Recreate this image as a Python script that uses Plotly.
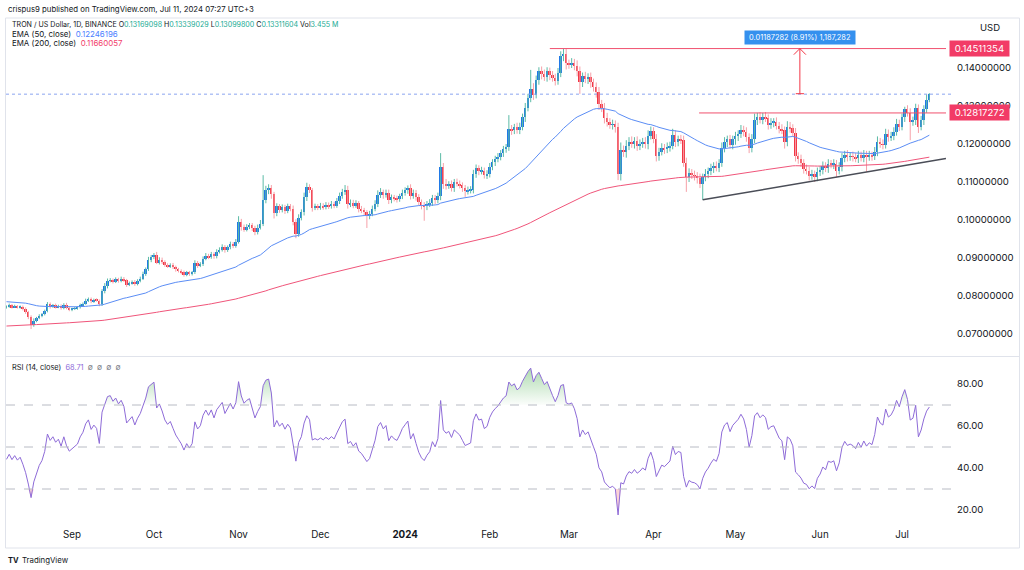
import numpy as np
import pandas as pd
import plotly.graph_objects as go

W, H = 1024, 570

# ---------------- DATA (prices in units of 1e-4 USD) ----------------
START_DATE = "2023-08-08"
FIRST_OPEN_E4 = 770

close_aug = [772, 776, 771, 774, 770, 772, 766, 758, 745, 724, 735, 742, 748, 752, 760, 778, 772, 776, 771, 774, 768, 777, 769, 764]
close_sep = [766, 768, 770, 776, 780, 788, 792, 786, 790, 788, 778, 812, 826, 840, 842, 838, 844, 840, 846, 842, 830, 834, 838, 832, 840, 846, 858, 870, 895, 902]
close_oct = [908, 888, 896, 890, 882, 878, 882, 876, 870, 866, 862, 856, 862, 858, 862, 886, 880, 884, 898, 906, 902, 910, 904, 916, 922, 928, 920, 928, 936, 932, 942]
close_nov = [995, 982, 975, 982, 986, 978, 968, 980, 990, 1052, 1078, 1084, 1068, 1018, 1036, 1026, 1034, 1024, 1036, 1030, 996, 964, 1005, 1020, 1060, 1086, 1078, 1032, 1036, 1033]
close_dec = [1038, 1034, 1040, 1036, 1042, 1038, 1050, 1062, 1074, 1080, 1042, 1046, 1038, 1044, 1030, 1026, 1020, 1012, 1016, 1030, 1042, 1066, 1074, 1066, 1072, 1052, 1060, 1056, 1054, 1062, 1072]
close_jan = [1078, 1084, 1064, 1072, 1060, 1048, 1040, 1036, 1042, 1046, 1058, 1052, 1062, 1140, 1096, 1090, 1094, 1084, 1100, 1096, 1092, 1084, 1076, 1078, 1080, 1120, 1136, 1128, 1130, 1118, 1122]
close_feb = [1140, 1152, 1160, 1166, 1176, 1186, 1192, 1240, 1236, 1244, 1238, 1246, 1270, 1296, 1322, 1346, 1330, 1368, 1392, 1384, 1376, 1392, 1382, 1374, 1366, 1388, 1432, 1438, 1412]
close_mar = [1410, 1414, 1406, 1392, 1362, 1378, 1370, 1376, 1362, 1350, 1336, 1306, 1296, 1268, 1258, 1250, 1252, 1244, 1120, 1184, 1178, 1196, 1206, 1200, 1208, 1196, 1200, 1206, 1200, 1222, 1234]
close_apr = [1214, 1168, 1180, 1190, 1186, 1192, 1196, 1224, 1206, 1212, 1210, 1150, 1112, 1124, 1118, 1116, 1110, 1096, 1112, 1122, 1128, 1136, 1142, 1138, 1150, 1190, 1206, 1212, 1198, 1212]
close_may = [1220, 1226, 1238, 1232, 1218, 1190, 1212, 1262, 1272, 1264, 1272, 1268, 1250, 1256, 1258, 1248, 1240, 1236, 1204, 1246, 1242, 1230, 1168, 1160, 1150, 1134, 1130, 1116, 1120, 1112, 1126]
close_jun = [1132, 1142, 1136, 1148, 1146, 1148, 1130, 1140, 1162, 1172, 1166, 1168, 1166, 1162, 1170, 1164, 1172, 1166, 1170, 1168, 1180, 1206, 1200, 1198, 1226, 1218, 1222, 1232, 1252, 1246]
close_jul = [1270, 1292, 1282, 1258, 1262, 1294, 1246, 1262, 1292, 1316.9098, 1331.1604]

# upper wick (above candle body) and lower wick (below body), 1e-4 USD
uw_aug = [3, 4, 3, 3, 2, 3, 3, 4, 3, 4, 6, 3, 4, 3, 4, 6, 5, 3, 4, 3, 4, 4, 5, 3]
lw_aug = [3, 3, 4, 2, 3, 3, 4, 5, 6, 11, 5, 4, 3, 4, 3, 3, 5, 3, 4, 3, 4, 3, 4, 4]
uw_sep = [3, 4, 3, 4, 3, 5, 4, 4, 3, 4, 3, 6, 8, 6, 5, 4, 5, 4, 5, 4, 3, 4, 3, 4, 4, 5, 6, 5, 8, 6]
lw_sep = [4, 3, 4, 3, 4, 3, 4, 5, 4, 3, 5, 4, 5, 6, 4, 5, 4, 5, 4, 5, 6, 4, 4, 5, 4, 4, 4, 5, 4, 6]
uw_oct = [5, 8, 6, 5, 4, 4, 4, 5, 4, 4, 4, 5, 4, 4, 4, 8, 6, 5, 6, 7, 5, 6, 5, 7, 6, 8, 6, 5, 7, 6, 8]
lw_oct = [5, 4, 5, 6, 5, 4, 4, 5, 6, 4, 5, 5, 4, 5, 4, 4, 6, 4, 5, 4, 5, 4, 6, 5, 4, 5, 6, 4, 5, 6, 5]
uw_nov = [15, 8, 6, 7, 6, 6, 7, 8, 10, 66, 12, 10, 8, 6, 8, 6, 7, 6, 7, 6, 8, 6, 10, 8, 12, 12, 8, 6, 7, 6]
lw_nov = [4, 10, 6, 5, 6, 7, 8, 6, 5, 6, 8, 10, 12, 14, 8, 7, 6, 8, 6, 7, 10, 12, 8, 6, 8, 10, 7, 10, 6, 7]
uw_dec = [7, 6, 7, 6, 8, 6, 8, 10, 8, 12, 10, 8, 7, 8, 6, 7, 6, 6, 8, 8, 10, 12, 10, 6, 8, 8, 7, 6, 8, 7, 8]
lw_dec = [6, 7, 6, 7, 6, 7, 6, 8, 6, 8, 12, 8, 7, 6, 10, 8, 9, 33, 10, 6, 7, 8, 8, 10, 7, 10, 8, 7, 8, 6, 7]
uw_jan = [8, 7, 10, 8, 7, 8, 6, 7, 8, 9, 8, 8, 10, 36, 10, 12, 8, 10, 8, 9, 8, 7, 8, 10, 9, 12, 10, 8, 10, 8, 9]
lw_jan = [8, 9, 10, 8, 9, 10, 12, 38, 10, 8, 9, 10, 8, 10, 14, 10, 8, 9, 10, 8, 9, 10, 15, 9, 8, 10, 9, 10, 8, 9, 10]
uw_feb = [10, 8, 9, 10, 8, 9, 8, 36, 10, 9, 12, 10, 10, 12, 10, 49, 14, 12, 10, 12, 12, 10, 9, 10, 11, 12, 12, 13, 14]
lw_feb = [10, 9, 10, 8, 9, 10, 9, 10, 12, 10, 11, 12, 10, 12, 10, 12, 14, 10, 12, 14, 10, 12, 14, 10, 12, 10, 12, 14, 16]
uw_mar = [10, 12, 10, 14, 12, 10, 12, 10, 12, 10, 12, 14, 10, 12, 14, 10, 12, 10, 12, 20, 12, 14, 12, 14, 10, 12, 12, 10, 12, 14, 12]
lw_mar = [12, 10, 12, 14, 30, 12, 10, 12, 14, 12, 14, 16, 12, 14, 12, 10, 12, 14, 15, 16, 12, 14, 12, 10, 12, 14, 12, 10, 12, 14, 10]
uw_apr = [10, 12, 10, 12, 10, 12, 10, 16, 12, 10, 12, 12, 14, 12, 10, 12, 10, 12, 10, 12, 10, 12, 10, 12, 10, 14, 12, 10, 12, 10]
lw_apr = [12, 14, 12, 10, 12, 10, 12, 10, 14, 12, 10, 10, 38, 12, 10, 12, 14, 12, 43, 10, 12, 10, 12, 10, 12, 10, 12, 14, 10, 12]
uw_may = [12, 10, 12, 10, 12, 10, 14, 18, 10, 12, 10, 12, 10, 12, 10, 12, 10, 12, 10, 14, 12, 10, 12, 10, 12, 10, 12, 10, 12, 10, 12]
lw_may = [14, 12, 10, 12, 12, 14, 12, 10, 12, 10, 12, 10, 12, 10, 12, 10, 12, 10, 16, 10, 12, 10, 14, 12, 10, 12, 10, 12, 10, 12, 10]
uw_jun = [10, 12, 10, 12, 10, 12, 10, 12, 14, 10, 12, 10, 12, 10, 12, 10, 12, 10, 12, 10, 12, 14, 10, 12, 14, 12, 10, 12, 14, 12]
lw_jun = [10, 12, 10, 12, 10, 12, 17, 10, 12, 10, 12, 10, 12, 10, 12, 10, 12, 39, 10, 12, 10, 12, 10, 12, 10, 12, 10, 12, 10, 12]
uw_jul = [10, 6, 10, 12, 10, 12, 10, 12, 10, 14, 2.7425]
lw_jul = [10, 12, 10, 48, 10, 12, 17, 10, 12, 10, 6.9298]

# indicator starting states
EMA50_START = 0.0785
EMA200_START = 0.0721
RSI_AVG_GAIN_START = 0.00030
RSI_AVG_LOSS_START = 0.00038

# tick labels / annotations
PRICE_TICKS = [0.07, 0.08, 0.09, 0.10, 0.11, 0.12, 0.13, 0.14]
RSI_TICKS = [20, 40, 60, 80]
MONTH_TICKS = ["2023-09-01", "2023-10-01", "2023-11-01", "2023-12-01", "2024-01-01", "2024-02-01",
               "2024-03-01", "2024-04-01", "2024-05-01", "2024-06-01", "2024-07-01"]
MONTH_LABELS = ["Sep", "Oct", "Nov", "Dec", "<b>2024</b>", "Feb", "Mar", "Apr", "May", "Jun", "Jul"]

RESIST_HIGH = 0.14511354
RESIST_HIGH_FROM = "2024-02-23"
RESIST_MID = 0.12817272
RESIST_MID_FROM = "2024-04-17 16:00"
MEASURE_DATE = pd.Timestamp("2024-05-24 14:00")
MEASURE_FROM = 0.13324072
MEASURE_TEXT = "0.01187282 (8.91%) 1,187,282"
TREND_P0 = ("2024-04-19", 0.1053)
TREND_P1 = ("2024-07-17 02:00", 0.1162)

# ---------------- assemble ----------------
closes = sum([close_aug, close_sep, close_oct, close_nov, close_dec, close_jan, close_feb,
              close_mar, close_apr, close_may, close_jun, close_jul], [])
uws = sum([uw_aug, uw_sep, uw_oct, uw_nov, uw_dec, uw_jan, uw_feb, uw_mar, uw_apr, uw_may, uw_jun, uw_jul], [])
lws = sum([lw_aug, lw_sep, lw_oct, lw_nov, lw_dec, lw_jan, lw_feb, lw_mar, lw_apr, lw_may, lw_jun, lw_jul], [])
assert len(closes) == len(uws) == len(lws) == 339, (len(closes), len(uws), len(lws))

dates = pd.date_range(START_DATE, periods=len(closes), freq="D")
close = np.array(closes, float) / 1e4
open_ = np.concatenate([[FIRST_OPEN_E4 / 1e4], close[:-1]])
high = np.maximum(open_, close) + np.array(uws, float) / 1e4
low = np.minimum(open_, close) - np.array(lws, float) / 1e4


def ema(vals, period, start):
    a = 2.0 / (period + 1)
    out = [start]
    for v in vals[1:]:
        out.append(out[-1] + a * (v - out[-1]))
    return np.array(out)


def rsi(vals, period, g0, l0):
    ag, al = g0, l0
    out = [100 * ag / (ag + al)]
    for i in range(1, len(vals)):
        ch = vals[i] - vals[i - 1]
        ag = (ag * (period - 1) + max(ch, 0)) / period
        al = (al * (period - 1) + max(-ch, 0)) / period
        out.append(100 * ag / (ag + al))
    return np.array(out)


ema50 = ema(close, 50, EMA50_START)
ema200 = ema(close, 200, EMA200_START)
rsi14 = rsi(close, 14, RSI_AVG_GAIN_START, RSI_AVG_LOSS_START)

# ---------------- style ----------------
FONT = "Inter"
TXT = "#131722"
UP_BODY, UP_WICK = "#2079E6", "#5BBBA6"
DN_BODY, DN_WICK = "#F23645", "#F6A0A8"
EMA50_C, EMA200_C = "#5B8DF5", "#F0557A"
RSI_C = "#8E6BD8"
LVL_C = "#F0506E"
LABEL_BG = "#F23B66"


def px(x, y):
    return x / W, 1 - y / H


# layout geometry (pixels)
PLOT_L, PLOT_R = 6, 946
PRICE_TOP, PRICE_BOT = 18, 356
RSI_TOP, RSI_BOT = 357, 527
X_LEFT = pd.Timestamp("2023-08-07 19:40")
X_RIGHT = pd.Timestamp("2024-07-17 02:30")
PRICE_RANGE = [0.14 - (PRICE_BOT - 68) / 3800, 0.14 + (68 - PRICE_TOP) / 3800]
RSI_RANGE = [80 - (RSI_BOT - 384) / 2.1, 80 + (384 - RSI_TOP) / 2.1]

fig = go.Figure()

up = close >= open_
dn = ~up
BODY_MS = 0.72 * 86400000

# wicks
for mask, col in ((up, UP_WICK), (dn, DN_WICK)):
    wx, wy = [], []
    for d, lo, hi in zip(dates[mask], low[mask], high[mask]):
        wx += [d, d, None]
        wy += [lo, hi, None]
    fig.add_trace(go.Scatter(x=wx, y=wy, mode="lines", line=dict(color=col, width=1),
                             hoverinfo="skip", xaxis="x", yaxis="y"))

fig.add_trace(go.Bar(x=dates[up], y=(close - open_)[up], base=open_[up], width=BODY_MS,
                     marker=dict(color=UP_BODY, line=dict(width=0)), xaxis="x", yaxis="y"))
fig.add_trace(go.Bar(x=dates[dn], y=(open_ - close)[dn], base=close[dn], width=BODY_MS,
                     marker=dict(color=DN_BODY, line=dict(width=0)), xaxis="x", yaxis="y"))

fig.add_trace(go.Scatter(x=dates, y=ema50, mode="lines", line=dict(color=EMA50_C, width=1),
                         xaxis="x", yaxis="y"))
fig.add_trace(go.Scatter(x=dates, y=ema200, mode="lines", line=dict(color=EMA200_C, width=1),
                         xaxis="x", yaxis="y"))

# RSI pane
fig.add_trace(go.Scatter(x=dates, y=[70] * len(dates), mode="lines", line=dict(width=0),
                         xaxis="x2", yaxis="y2", hoverinfo="skip"))
fig.add_trace(go.Scatter(x=dates, y=np.maximum(rsi14, 70), mode="lines", line=dict(width=0),
                         fill="tonexty",
                         fillgradient=dict(type="vertical",
                                           colorscale=[[0, "rgba(76,175,80,0.02)"], [1, "rgba(76,175,80,0.45)"]]),
                         xaxis="x2", yaxis="y2", hoverinfo="skip"))
fig.add_trace(go.Scatter(x=dates, y=[30] * len(dates), mode="lines", line=dict(width=0),
                         xaxis="x2", yaxis="y2", hoverinfo="skip"))
fig.add_trace(go.Scatter(x=dates, y=np.minimum(rsi14, 30), mode="lines", line=dict(width=0),
                         fill="tonexty", fillcolor="rgba(242,54,69,0.22)",
                         xaxis="x2", yaxis="y2", hoverinfo="skip"))
fig.add_trace(go.Scatter(x=dates, y=rsi14, mode="lines", line=dict(color=RSI_C, width=1),
                         xaxis="x2", yaxis="y2"))

shapes = []
# frame + pane separator
fx0, fy0 = px(5.5, 548)
fx1, fy1 = px(1019.5, 18)
shapes.append(dict(type="rect", xref="paper", yref="paper", x0=fx0, x1=fx1, y0=fy0, y1=fy1,
                   line=dict(color="#E0E3EB", width=1), layer="below"))
sx0, sy = px(5.5, 356.5)
shapes.append(dict(type="line", xref="paper", yref="paper", x0=sx0, x1=fx1, y0=sy, y1=sy,
                   line=dict(color="#E0E3EB", width=1)))
# last price dotted line
shapes.append(dict(type="line", xref="paper", yref="y", x0=PLOT_L / W, x1=952 / W,
                   y0=close[-1], y1=close[-1], line=dict(color="#8AA5F0", width=1, dash="dot")))
# RSI bands
for lvl in (70, 50, 30):
    shapes.append(dict(type="line", xref="paper", yref="y2", x0=PLOT_L / W, x1=952 / W, y0=lvl, y1=lvl,
                       line=dict(color="#B8BBC4", width=1, dash="dash")))
# resistance lines
shapes.append(dict(type="line", xref="x", yref="y", x0=RESIST_HIGH_FROM, x1=X_RIGHT,
                   y0=RESIST_HIGH, y1=RESIST_HIGH, line=dict(color=LVL_C, width=1)))
shapes.append(dict(type="line", xref="x", yref="y", x0=RESIST_MID_FROM, x1=X_RIGHT,
                   y0=RESIST_MID, y1=RESIST_MID, line=dict(color=LVL_C, width=1)))
# trendline
shapes.append(dict(type="line", xref="x", yref="y", x0=TREND_P0[0], y0=TREND_P0[1],
                   x1=TREND_P1[0], y1=TREND_P1[1], line=dict(color="#4A4D57", width=1.5)))
# measure arrow
ARM_DAYS = pd.Timedelta(hours=53)
ARM_PRICE = 0.0016
TICK_DAYS = pd.Timedelta(hours=36)
shapes.append(dict(type="line", xref="x", yref="y", x0=MEASURE_DATE, x1=MEASURE_DATE,
                   y0=MEASURE_FROM, y1=RESIST_HIGH, line=dict(color="#F23645", width=1)))
shapes.append(dict(type="line", xref="x", yref="y", x0=MEASURE_DATE - ARM_DAYS, x1=MEASURE_DATE,
                   y0=RESIST_HIGH - ARM_PRICE, y1=RESIST_HIGH, line=dict(color="#F23645", width=1)))
shapes.append(dict(type="line", xref="x", yref="y", x0=MEASURE_DATE + ARM_DAYS, x1=MEASURE_DATE,
                   y0=RESIST_HIGH - ARM_PRICE, y1=RESIST_HIGH, line=dict(color="#F23645", width=1)))
shapes.append(dict(type="line", xref="x", yref="y", x0=MEASURE_DATE - TICK_DAYS, x1=MEASURE_DATE + TICK_DAYS,
                   y0=MEASURE_FROM, y1=MEASURE_FROM, line=dict(color="#F23645", width=1)))

ann = []


def text_at(x, y, text, size=7.6, color=TXT, anchor="left", **kw):
    ax, ay = px(x, y)
    ann.append(dict(xref="paper", yref="paper", x=ax, y=ay, text=text, showarrow=False,
                    xanchor=anchor, yanchor="middle", font=dict(family=FONT, size=size, color=color), **kw))


GREEN = "#22AB94"
text_at(6, 9, "crispus9 published on TradingView.com, Jul 11, 2024 07:27 UTC+3", size=7.8)
text_at(10, 24.5,
        "TRON / US Dollar, 1D, BINANCE&nbsp;"
        f"O<span style='color:{GREEN}'>0.13169098</span>&nbsp;"
        f"H<span style='color:{GREEN}'>0.13339029</span>&nbsp;"
        f"L<span style='color:{GREEN}'>0.13099800</span>&nbsp;"
        f"C<span style='color:{GREEN}'>0.13311604</span>&nbsp;"
        f"Vol<span style='color:{GREEN}'>3.455 M</span>", size=7.1)
text_at(10, 34, f"EMA (50, close)&nbsp;&nbsp;<span style='color:#4D7FFF'>0.12246196</span>", size=7.9)
text_at(10, 43.3, f"EMA (200, close)&nbsp;&nbsp;<span style='color:#F2416B'>0.11660057</span>", size=7.9)
text_at(10, 367.7, "RSI (14, close)&nbsp;&nbsp;<span style='color:#8E6BD8'>68.71</span>&nbsp;&nbsp;"
        "<span style='color:#787B86'>∅&nbsp;&nbsp;∅&nbsp;&nbsp;∅&nbsp;&nbsp;∅</span>", size=7.4)
text_at(990, 27, "USD", size=9.5, anchor="center")
text_at(6, 560, "<b>TV</b>", size=7.5)
text_at(20, 560, "TradingView", size=7.8)

# price labels on axis
for val in (RESIST_HIGH, RESIST_MID):
    ann.append(dict(xref="paper", yref="y", x=949 / W, y=val, text=f"\u00a0{val:.8f}\u00a0", showarrow=False,
                    xanchor="left", yanchor="middle", bgcolor=LABEL_BG, borderpad=2,
                    font=dict(family=FONT, size=9.6, color="white")))
# measure label
ann.append(dict(xref="x", yref="paper", x=MEASURE_DATE, y=px(0, 37.5)[1], text=f"\u00a0{MEASURE_TEXT}\u00a0",
                showarrow=False, xanchor="center", yanchor="middle", bgcolor="#3590EE", borderpad=2,
                font=dict(family=FONT, size=7.4, color="white")))

xd0, xd1 = PLOT_L / W, PLOT_R / W
axis_common = dict(showgrid=False, zeroline=False, showline=False, fixedrange=True)
fig.update_layout(
    width=W, height=H, margin=dict(l=0, r=0, t=0, b=0),
    paper_bgcolor="white", plot_bgcolor="white", showlegend=False,
    barmode="overlay", bargap=0,
    xaxis=dict(domain=[xd0, xd1], range=[X_LEFT, X_RIGHT], type="date", anchor="y",
               showticklabels=False, ticks="", **axis_common),
    yaxis=dict(domain=[1 - PRICE_BOT / H, 1 - PRICE_TOP / H], range=PRICE_RANGE, anchor="x", side="right",
               tickvals=PRICE_TICKS, ticktext=[f"{v:.8f}" for v in PRICE_TICKS], ticks="",
               tickfont=dict(family=FONT, size=9.6, color=TXT), ticklabelstandoff=10, automargin=False,
               **axis_common),
    xaxis2=dict(domain=[xd0, xd1], range=[X_LEFT, X_RIGHT], type="date", anchor="y2", matches="x",
                tickvals=MONTH_TICKS, ticktext=MONTH_LABELS, ticks="",
                tickfont=dict(family=FONT, size=9.8, color=TXT), automargin=False, **axis_common),
    yaxis2=dict(domain=[1 - RSI_BOT / H, 1 - RSI_TOP / H], range=RSI_RANGE, anchor="x2", side="right",
                tickvals=RSI_TICKS, ticktext=[f"{v:.2f}" for v in RSI_TICKS], ticks="",
                tickfont=dict(family=FONT, size=9.6, color=TXT), ticklabelstandoff=10, automargin=False,
                **axis_common),
    shapes=shapes, annotations=ann,
)

fig.write_html("out.html", config={"displayModeBar": False},
               post_script="document.body.style.margin='0px';document.body.style.overflow='hidden';")
